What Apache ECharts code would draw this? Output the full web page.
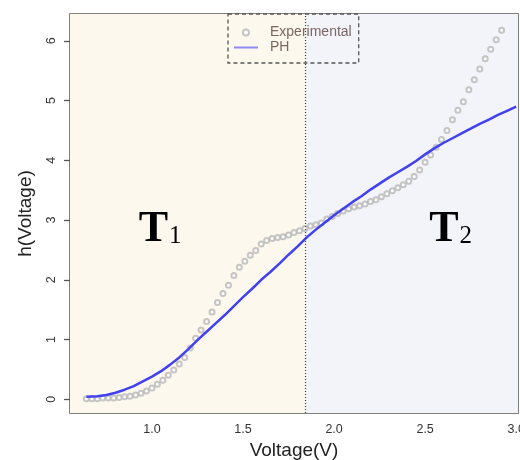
<!DOCTYPE html>
<html>
<head>
<meta charset="utf-8">
<script src="https://cdn.jsdelivr.net/npm/echarts@6/dist/echarts.min.js"></script>
<style>
  html, body { margin: 0; padding: 0; background: #fff; }
  #chart { width: 520px; height: 460px; }
</style>
</head>
<body>
<div id="chart"></div>
<script>
// Experimental points, voltage vs h(voltage).
const expVoltage = [
  0.64, 0.67, 0.70, 0.73, 0.76, 0.79, 0.82, 0.85, 0.88, 0.91,
  0.94, 0.97, 1.00, 1.03, 1.06, 1.09, 1.12, 1.15, 1.18, 1.21,
  1.24, 1.27, 1.30, 1.33, 1.36, 1.39, 1.42, 1.45, 1.48, 1.51,
  1.54, 1.57, 1.60, 1.63, 1.66, 1.69, 1.72, 1.75, 1.78, 1.81,
  1.84, 1.87, 1.90, 1.93, 1.96, 1.99, 2.02, 2.05, 2.08, 2.11,
  2.14, 2.17, 2.20, 2.23, 2.26, 2.29, 2.32, 2.35, 2.38, 2.41,
  2.44, 2.47, 2.50, 2.53, 2.56, 2.59, 2.62, 2.65, 2.68, 2.71,
  2.74, 2.77, 2.80, 2.83, 2.86, 2.89, 2.92
]
const expH = [
  0.01, 0.01, 0.01, 0.02, 0.02, 0.02, 0.03, 0.04, 0.05, 0.07,
  0.10, 0.14, 0.19, 0.25, 0.32, 0.40, 0.49, 0.59, 0.70, 0.86,
  1.02, 1.16, 1.30, 1.46, 1.62, 1.77, 1.91, 2.07, 2.21, 2.31,
  2.41, 2.49, 2.60, 2.66, 2.69, 2.71, 2.72, 2.75, 2.79, 2.82,
  2.86, 2.90, 2.92, 2.95, 3.02, 3.06, 3.11, 3.15, 3.19, 3.22,
  3.24, 3.27, 3.31, 3.34, 3.39, 3.44, 3.49, 3.54, 3.59, 3.65,
  3.73, 3.84, 3.97, 4.09, 4.22, 4.35, 4.50, 4.68, 4.84, 4.98,
  5.18, 5.35, 5.53, 5.70, 5.86, 6.02, 6.18
]

// PH fitted curve.
const phVoltage = [
  0.64, 0.70, 0.75, 0.80, 0.85, 0.90, 0.95, 1.00, 1.05, 1.10,
  1.15, 1.20, 1.25, 1.30, 1.35, 1.40, 1.45, 1.50, 1.55, 1.60,
  1.65, 1.70, 1.75, 1.80, 1.85, 1.90, 1.95, 2.00, 2.05, 2.10,
  2.15, 2.20, 2.25, 2.30, 2.35, 2.40, 2.45, 2.50, 2.55, 2.60,
  2.65, 2.70, 2.75, 2.80, 2.85, 2.90, 2.95, 3.00
]
const phH = [
  0.04, 0.05, 0.07, 0.11, 0.16, 0.22, 0.30, 0.38, 0.47, 0.58,
  0.70, 0.84, 0.99, 1.13, 1.27, 1.41, 1.56, 1.71, 1.85, 2.00,
  2.13, 2.27, 2.42, 2.56, 2.71, 2.84, 2.96, 3.08, 3.19, 3.30,
  3.40, 3.51, 3.61, 3.71, 3.80, 3.89, 3.99, 4.10, 4.20, 4.29,
  4.37, 4.45, 4.53, 4.61, 4.68, 4.76, 4.83, 4.90
]

const xTicks = [1.0, 1.5, 2.0, 2.5, 3.0]
const yTicks = [0, 1, 2, 3, 4, 5, 6]

// Regime boundary and region labels.
const DIVIDE_V = 1.84
const X_MIN = 0.55
const X_MAX = 3.01
const regionLabels = [
  {sub: "1", at: [1.045, 2.84]},
  {sub: "2", at: [2.64, 2.84]},
]

const FRAME = "#555"
const TEXT = "#333"
const PH_BLUE = "#4141f2"
const EXP_GREY = "#b8b8b8"

const chart = echarts.init(document.getElementById("chart"))

chart.setOption({
  animation: false,
  grid: {
    left: 70, right: 2, top: 14, bottom: 47,
    outerBoundsMode: "none",
    show: true, borderColor: FRAME, borderWidth: 1.5, backgroundColor: "transparent",
  },
  legend: {
    orient: "vertical",
    left: 228, top: 14,
    padding: [11, 7, 8, 5],
    itemGap: 0,
    itemWidth: 24, itemHeight: 6,
    borderColor: FRAME, borderWidth: 1.3, borderType: [4, 3],
    textStyle: {fontFamily: "Liberation Sans", fontSize: 14, lineHeight: 15, color: "#7a6662", padding: [0, 0, 0, 7]},
    data: [
      {name: "Experimental", icon: "emptyCircle", itemStyle: {color: EXP_GREY, borderColor: EXP_GREY, borderWidth: 1}},
      {name: "PH", itemStyle: {color: "rgba(0,0,0,0)", borderWidth: 0}, lineStyle: {color: "#8c8cf2", width: 2}},
    ],
  },
  xAxis: {
    type: "value", min: X_MIN, max: X_MAX,
    name: "Voltage(V)", nameLocation: "middle", nameGap: 24,
    nameTextStyle: {fontFamily: "Liberation Sans", fontSize: 19, color: "#222"},
    axisLine: {show: false},
    splitLine: {show: false},
    axisTick: {show: true, inside: false, length: 6, lineStyle: {color: FRAME, width: 1.3}, customValues: xTicks},
    axisLabel: {
      margin: 10, fontFamily: "Liberation Sans", fontSize: 12.5, color: TEXT,
      customValues: xTicks, formatter: (v) => v.toFixed(1),
    },
  },
  yAxis: {
    type: "value", min: -0.23, max: 6.45,
    name: "h(Voltage)", nameLocation: "middle", nameGap: 35,
    nameTextStyle: {fontFamily: "Liberation Sans", fontSize: 19, color: "#222"},
    axisLine: {show: false},
    splitLine: {show: false},
    axisTick: {show: true, inside: false, length: 6, lineStyle: {color: FRAME, width: 1.3}, customValues: yTicks},
    axisLabel: {
      margin: 12, rotate: 90, fontFamily: "Liberation Sans", fontSize: 12.5, color: TEXT,
      customValues: yTicks,
    },
  },
  series: [
    {
      // background regions, boundary and region labels
      name: "regions", type: "line", data: [], z: 0, silent: true,
      markArea: {
        silent: true,
        data: [
          [{xAxis: X_MIN, itemStyle: {color: "#fcf8ed"}}, {xAxis: DIVIDE_V}],
          [{xAxis: DIVIDE_V, itemStyle: {color: "#f3f3fa"}}, {xAxis: X_MAX}],
        ],
      },
      markLine: {
        silent: true, symbol: "none",
        label: {show: false},
        lineStyle: {color: "#444", type: [1, 2], width: 1.2},
        data: [{xAxis: DIVIDE_V}],
      },
      markPoint: {
        silent: true, symbol: "rect", symbolSize: 1,
        itemStyle: {color: "transparent"},
        data: regionLabels.map((r) => ({
          coord: r.at,
          label: {
            show: true, position: "inside",
            formatter: `{t|T}{s|${r.sub}}`,
            rich: {
              t: {fontFamily: "Liberation Serif", fontWeight: "bold", fontSize: 44, color: "#000", lineHeight: 44, verticalAlign: "bottom"},
              s: {fontFamily: "Liberation Serif", fontSize: 25, color: "#000", lineHeight: 44, verticalAlign: "bottom", padding: [0, 0, 3, 1]},
            },
          },
        })),
      },
    },
    {
      name: "Experimental", type: "scatter", z: 2,
      symbol: "emptyCircle", symbolSize: 5,
      itemStyle: {color: EXP_GREY, borderColor: EXP_GREY, borderWidth: 1},
      data: expVoltage.map((v, i) => [v, expH[i]]),
    },
    {
      name: "PH", type: "line", z: 3,
      showSymbol: false, symbol: "none",
      itemStyle: {color: PH_BLUE},
      lineStyle: {color: PH_BLUE, width: 2.5},
      data: phVoltage.map((v, i) => [v, phH[i]]),
    },
  ],
})
</script>
</body>
</html>
